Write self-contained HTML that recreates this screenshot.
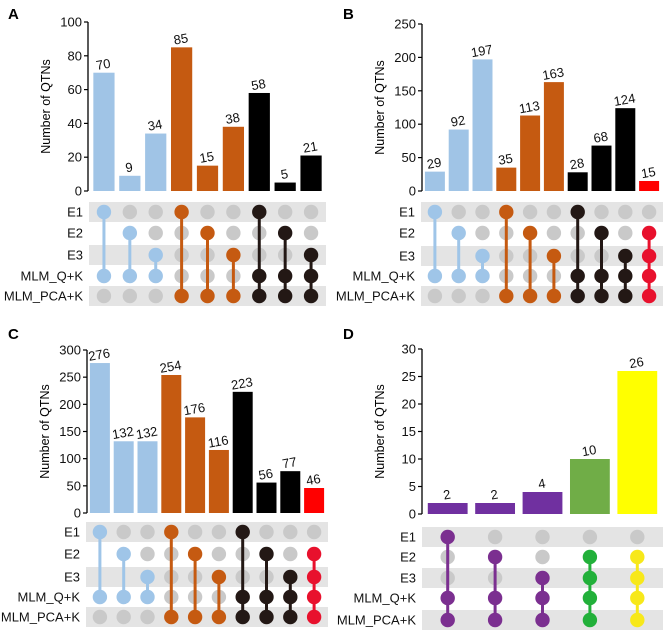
<!DOCTYPE html>
<html><head><meta charset="utf-8">
<style>
body{margin:0;background:#fff;width:669px;height:635px;overflow:hidden}
svg{font-family:"Liberation Sans",Arial,sans-serif}
</style></head>
<body>
<svg id="fig" width="669" height="635" viewBox="0 0 669 635"></svg>
<script>
const rowLabels = ["E1","E2","E3","MLM_Q+K","MLM_PCA+K"];
const valuesA = [70,9,34,85,15,38,58,5,21];
const valuesB = [29,92,197,35,113,163,28,68,124,15];
const valuesC = [276,132,132,254,176,116,223,56,77,46];
const valuesD = [2,2,4,10,26];
const ticksA = [0,20,40,60,80,100];
const ticksB = [0,50,100,150,200,250];
const ticksC = [0,50,100,150,200,250,300];
const ticksD = [0,5,10,15,20,25,30];
const setsABC = [[0,3],[1,3],[2,3],[0,4],[1,4],[2,4],[0,3,4],[1,3,4],[2,3,4],[1,2,3,4]];
const setsD = [[0,3,4],[1,3,4],[2,3,4],[1,2,3,4],[1,2,3,4]];
const groupABC = ["b","b","b","o","o","o","k","k","k","r"];
const groupD = ["p","p","p","g","y"];

const barCol = {b:"#a0c4e6",o:"#c55a11",k:"#000000",r:"#ff0000",p:"#7030a0",g:"#70ad47",y:"#ffff00"};
const dotCol = {b:"#9fc5e8",o:"#c55a11",k:"#231815",r:"#e8112d",p:"#7b2f90",g:"#22b03a",y:"#f7e81a"};
const NS="http://www.w3.org/2000/svg";
const svg=document.getElementById('fig');
function el(tag,attrs,parent){const e=document.createElementNS(NS,tag);for(const k in attrs)e.setAttribute(k,attrs[k]);(parent||svg).appendChild(e);return e;}

function panel(cfg){
  const g=el('g',{});
  
  
  const L=el('text',{x:cfg.ox+8,y:cfg.oy+19,'font-size':15,'font-weight':'bold'},g);L.textContent=cfg.letter;
  
  
  const max=cfg.ticks[cfg.ticks.length-1];
  const y=v=>cfg.y0-(v/max)*(cfg.y0-cfg.yTop);
  const ax=el('line',{x1:cfg.ax,x2:cfg.ax,y1:cfg.yTop,y2:cfg.y0,stroke:'#000','stroke-width':1.3},g);
  
  
  cfg.ticks.forEach(t=>{
    el('line',{x1:cfg.ax-4,x2:cfg.ax,y1:y(t),y2:y(t),stroke:'#000','stroke-width':1.2},g);
    const tt=el('text',{x:cfg.ax-6,y:y(t)+4.5,'font-size':13,'text-anchor':'end',fill:'#111'},g);tt.textContent=t;
    
    
  });
  const ttl=el('text',{x:0,y:0,'font-size':12.5,'text-anchor':'middle',transform:`translate(${cfg.ax-38},${(cfg.yTop+cfg.y0)/2}) rotate(-90)`},g);
  ttl.textContent='Number of QTNs';
  
  
  const n=cfg.values.length;
  const slot=(cfg.x1-cfg.x0)/n;
  const bw=slot*cfg.bf;
  [0,2,4].forEach(r=>{
    const s=el('rect',{x:cfg.x0-2,y:cfg.rows[r]-10,width:cfg.x1-cfg.x0+4,height:20,fill:'#e4e4e4'},g);
    
    
  });
  rowLabels.forEach((lab,r)=>{
    const t=el('text',{x:cfg.x0-8,y:cfg.rows[r]+4.5,'font-size':13,'text-anchor':'end',fill:'#111'},g);t.textContent=lab;
    
    
  });
  cfg.values.forEach((v,i)=>{
    const cx=cfg.x0+slot*(i+0.5);
    const b=el('rect',{x:cx-bw/2,y:y(v),width:bw,height:cfg.y0-y(v),fill:barCol[cfg.groups[i]]},g);
    
    
    const vt=el('text',{x:0,y:0,'font-size':13,'text-anchor':'middle',fill:'#111',transform:`translate(${cx},${y(v)-4}) rotate(-10)`},g);
    vt.textContent=v;
    
    
    const mem=cfg.sets[i];const dc=dotCol[cfg.groups[i]];
    const lo=mem[0],hi=mem[mem.length-1];
    const skipGrey=cfg.groups[i]==='b';
    for(let r=0;r<5;r++){
      if(mem.includes(r)) continue;
      if(skipGrey && r>lo && r<hi) continue;
      const c=el('circle',{cx:cx,cy:cfg.rows[r],r:7.2,fill:'#c9c9c9'},g);
      
      
    }
    const ln=el('line',{x1:cx,x2:cx,y1:cfg.rows[lo],y2:cfg.rows[hi],stroke:dc,'stroke-width':3},g);
    
    
    mem.forEach(r=>{
      const c=el('circle',{cx:cx,cy:cfg.rows[r],r:7.2,fill:dc},g);
      
      
    });
  });
}
panel({letter:'A',ox:0,oy:0,ax:88,yTop:22,y0:191,x0:91,x1:324,values:valuesA,ticks:ticksA,sets:setsABC.slice(0,9),groups:groupABC.slice(0,9),rows:[212,233,255,276,296],bf:0.82});
panel({letter:'B',ox:335,oy:0,ax:422,yTop:24,y0:191,x0:423,x1:661,values:valuesB,ticks:ticksB,sets:setsABC,groups:groupABC,rows:[212,233,256,276,296],bf:0.84});
panel({letter:'C',ox:0,oy:320,ax:87,yTop:350,y0:513,x0:88,x1:326,values:valuesC,ticks:ticksC,sets:setsABC,groups:groupABC,rows:[532,554,577,597,617],bf:0.84});
panel({letter:'D',ox:335,oy:320,ax:422,yTop:349,y0:514,x0:424,x1:661,values:valuesD,ticks:ticksD,sets:setsD,groups:groupD,rows:[537,557,578,598,620],bf:0.84});
</script>
</body></html>
